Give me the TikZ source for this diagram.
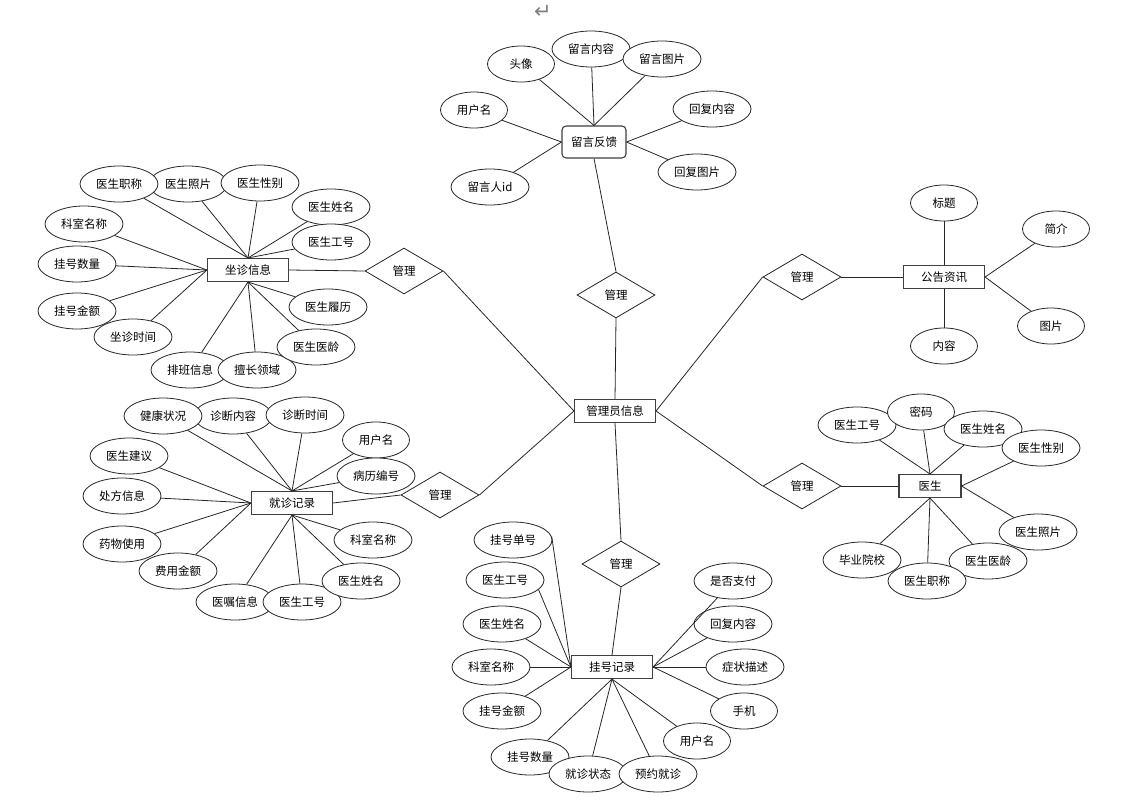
\documentclass[tikz,border=0pt]{standalone}
\usepackage{fontspec}
\setmainfont{Noto Sans CJK SC}
\newfontfamily\symfont{DejaVu Sans}
\usetikzlibrary{positioning, shapes.geometric}

\begin{document}
\begin{tikzpicture}[x=1pt,y=-1pt,nodes={font=\fontsize{11.5pt}{13pt}\selectfont}]
                \tikzstyle{entity} = [rectangle, draw=black!75, line width=1.1pt, fill=white, minimum width=81pt, minimum height=23pt, inner sep=0pt]
                \tikzstyle{attr} = [ellipse, draw=black!85, line width=0.8pt, fill=white, minimum width=78pt, minimum height=36pt, inner sep=0pt]
                \tikzstyle{sattr} = [attr, minimum width=67pt]
                \tikzstyle{rel} = [diamond, draw=black!85, line width=0.8pt, fill=white, minimum width=78pt, minimum height=46pt, inner sep=0pt]
                \tikzstyle{conn} = [draw=black!85, line width=0.8pt]

                \useasboundingbox (0,0) rectangle (1137,803);
                \node[text=black!50, font=\symfont\fontsize{21pt}{21pt}\selectfont] (ret) at (543,12) {↵};

                % entities and relations
                \node[entity](gl) at (615,411) {管理员信息};
                \node[entity, rounded corners=4pt, minimum width=64pt, minimum height=32pt](fb) at (594,142) {留言反馈};
                \node[entity](zz) at (248,270) {坐诊信息};
                \node[entity](jz) at (292,503) {就诊记录};
                \node[entity](gh) at (612,667) {挂号记录};
                \node[entity](gg) at (944,277) {公告资讯};
                \node[entity, minimum width=62pt](ys) at (930,486) {医生};

                \node[rel](r0) at (616,295) {管理};
                \node[rel](r1) at (404,271) {管理};
                \node[rel](r2) at (802,277) {管理};
                \node[rel](r3) at (802,486) {管理};
                \node[rel](r4) at (621,564) {管理};
                \node[rel](r5) at (440,495) {管理};

                \draw[conn] (fb.south) -- (r0.north);
                \draw[conn] (r0.south) -- (gl.north);
                \draw[conn] (zz.east) -- (r1.west);
                \draw[conn] (r1.east) -- (gl.west);
                \draw[conn] (jz.east) -- (r5.west);
                \draw[conn] (r5.east) -- (gl.west);
                \draw[conn] (gg.west) -- (r2.east);
                \draw[conn] (r2.west) -- (gl.east);
                \draw[conn] (ys.west) -- (r3.east);
                \draw[conn] (r3.west) -- (gl.east);
                \draw[conn] (gl.south) -- (r4.north);
                \draw[conn] (r4.south) -- (gh.north);

                % 留言反馈
                \node[sattr](fb1) at (521,64) {头像};
                \node[attr](fb2) at (591,49) {留言内容};
                \node[attr](fb3) at (662,59) {留言图片};
                \node[sattr](fb4) at (474,110) {用户名};
                \node[attr](fb5) at (712,109) {回复内容};
                \node[attr](fb6) at (697,172) {回复图片};
                \node[attr](fb7) at (490,187) {留言人id};
                \foreach \a in {fb1,fb2,fb3} \draw[conn] (\a) -- (fb.north);
                \foreach \a in {fb4,fb7} \draw[conn] (\a) -- (fb.west);
                \foreach \a in {fb5,fb6} \draw[conn] (\a) -- (fb.east);

                % 坐诊信息
                \node[attr](zz2) at (188,184) {医生照片};
                \node[attr](zz1) at (119,184) {医生职称};
                \node[attr](zz3) at (260,183) {医生性别};
                \node[attr](zz4) at (331,207) {医生姓名};
                \node[attr](zz5) at (331,242) {医生工号};
                \node[attr](zz6) at (84,224) {科室名称};
                \node[attr](zz7) at (77,264) {挂号数量};
                \node[attr](zz8) at (77,311) {挂号金额};
                \node[attr](zz9) at (133,337) {坐诊时间};
                \node[attr](zz10) at (190,370) {排班信息};
                \node[attr](zz11) at (257,370) {擅长领域};
                \node[attr](zz12) at (316,347) {医生医龄};
                \node[attr](zz13) at (328,307) {医生履历};
                \foreach \a in {zz1,zz2,zz3,zz4,zz5} \draw[conn] (\a) -- (zz.north);
                \foreach \a in {zz6,zz7,zz8,zz9} \draw[conn] (\a) -- (zz.west);
                \foreach \a in {zz10,zz11,zz12,zz13} \draw[conn] (\a) -- (zz.south);

                % 就诊记录
                \node[attr](jz2) at (233,416) {诊断内容};
                \node[attr](jz1) at (163,416) {健康状况};
                \node[attr](jz3) at (305,415) {诊断时间};
                \node[sattr](jz4) at (376,440) {用户名};
                \node[attr](jz5) at (376,476) {病历编号};
                \node[attr](jz6) at (129,456) {医生建议};
                \node[attr](jz7) at (122,496) {处方信息};
                \node[attr](jz8) at (122,544) {药物使用};
                \node[attr](jz9) at (178,571) {费用金额};
                \node[attr](jz10) at (235,602) {医嘱信息};
                \node[attr](jz11) at (302,602) {医生工号};
                \node[attr](jz12) at (361,581) {医生姓名};
                \node[attr](jz13) at (373,540) {科室名称};
                \foreach \a in {jz1,jz2,jz3,jz4,jz5} \draw[conn] (\a) -- (jz.north);
                \foreach \a in {jz6,jz7,jz8,jz9} \draw[conn] (\a) -- (jz.west);
                \foreach \a in {jz10,jz11,jz12,jz13} \draw[conn] (\a) -- (jz.south);

                % 挂号记录
                \node[attr](gh1) at (513,540) {挂号单号};
                \node[attr](gh2) at (505,580) {医生工号};
                \node[attr](gh3) at (502,624) {医生姓名};
                \node[attr](gh4) at (491,667) {科室名称};
                \node[attr](gh5) at (502,711) {挂号金额};
                \node[attr](gh6) at (530,757) {挂号数量};
                \node[attr](gh7) at (588,774) {就诊状态};
                \node[attr](gh8) at (658,774) {预约就诊};
                \node[sattr](gh9) at (697,741) {用户名};
                \node[sattr](gh10) at (744,711) {手机};
                \node[attr](gh11) at (745,667) {症状描述};
                \node[attr](gh12) at (733,624) {回复内容};
                \node[attr](gh13) at (733,581) {是否支付};
                \draw[conn] (gh1.5) -- (gh.west);
                \draw[conn] (gh2.-16) -- (gh.west);
                \foreach \a in {gh3,gh4,gh5} \draw[conn] (\a) -- (gh.west);
                \foreach \a in {gh6,gh7,gh8,gh9} \draw[conn] (\a) -- (gh.south);
                \foreach \a in {gh10,gh11,gh12,gh13} \draw[conn] (\a) -- (gh.east);

                % 公告资讯
                \node[sattr](gg1) at (944,203) {标题};
                \node[sattr](gg2) at (1056,229) {简介};
                \node[sattr](gg3) at (1051,326) {图片};
                \node[sattr](gg4) at (944,346) {内容};
                \draw[conn] (gg1) -- (gg.north);
                \draw[conn] (gg4) -- (gg.south);
                \foreach \a in {gg2,gg3} \draw[conn] (\a) -- (gg.east);

                % 医生
                \node[attr](ys1) at (857,425) {医生工号};
                \node[sattr](ys2) at (921,412) {密码};
                \node[attr](ys3) at (983,429) {医生姓名};
                \node[attr](ys4) at (1041,448) {医生性别};
                \node[attr](ys5) at (1038,532) {医生照片};
                \node[attr](ys6) at (988,561) {医生医龄};
                \node[attr](ys7) at (927,581) {医生职称};
                \node[attr](ys8) at (862,560) {毕业院校};
                \foreach \a in {ys1,ys2,ys3} \draw[conn] (\a) -- (ys.north);
                \foreach \a in {ys4,ys5} \draw[conn] (\a) -- (ys.east);
                \foreach \a in {ys6,ys7,ys8} \draw[conn] (\a) -- (ys.south);
\end{tikzpicture}
\end{document}
